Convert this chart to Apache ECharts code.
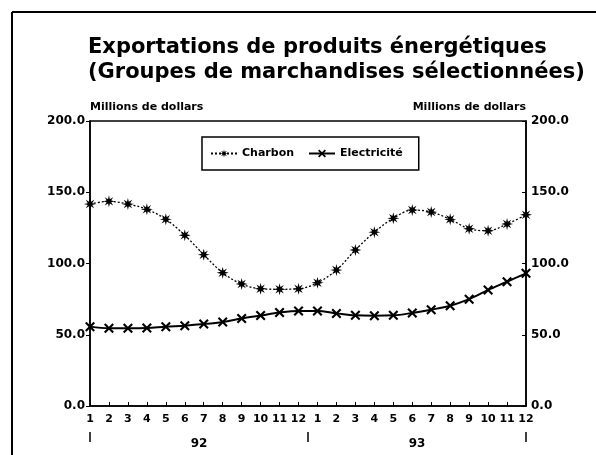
<!DOCTYPE html>
<html>
<head>
<meta charset="utf-8">
<script src="https://cdn.jsdelivr.net/npm/echarts@6.0.0/dist/echarts.min.js"></script>
<style>
  html, body { margin: 0; padding: 0; background: #fff; }
  #main { width: 596px; height: 455px; }
</style>
</head>
<body>
<div id="main"></div>
<script>
// months 92 then 93
var months = ['1','2','3','4','5','6','7','8','9','10','11','12',
              '1','2','3','4','5','6','7','8','9','10','11','12'];
var years = ['92', '93'];
var charbon = [141.7, 143.6, 141.7, 138, 131, 119.8, 106.2, 93.5, 85.6, 82.3, 81.9, 82.2,
               86.5, 95.4, 109.5, 122, 131.7, 137.5, 136.1, 131, 124.4, 123, 127.7, 134.2];
var electricite = [55.7, 54.5, 54.5, 54.7, 55.7, 56.4, 57.5, 59, 61.4, 63.5, 65.6, 66.7,
                   66.7, 65, 63.6, 63.4, 63.6, 65.3, 67.6, 70.4, 75, 81.4, 87.2, 93.1];

var font = 'DejaVu Sans';

// asterisk symbol: 8 spikes
function starPath(n, ro, ri) {
  var d = '';
  for (var i = 0; i < n * 2; i++) {
    var r = i % 2 === 0 ? ro : ri;
    var a = Math.PI * i / n - Math.PI / 2;
    var x = (10 + r * Math.cos(a)).toFixed(2);
    var y = (10 + r * Math.sin(a)).toFixed(2);
    d += (i === 0 ? 'M' : 'L') + x + ',' + y;
  }
  return 'path://' + d + 'Z';
}
var asterisk = starPath(8, 10, 4);
var cross = 'path://M0,1.5L1.5,0L5,3.5L8.5,0L10,1.5L6.5,5L10,8.5L8.5,10L5,6.5L1.5,10L0,8.5L3.5,5Z';

var chart = echarts.init(document.getElementById('main'));

var option = {
  backgroundColor: '#fff',
  animation: false,
  title: {
    text: 'Exportations de produits énergétiques\n(Groupes de marchandises sélectionnées)',
    left: 83,
    top: 30,
    textStyle: { fontFamily: font, fontWeight: 'bold', fontSize: 21, color: '#000', lineHeight: 25 }
  },
  legend: {
    left: 202,
    top: 137,
    width: 218,
    height: 35,
    padding: [11, 16, 11, 8],
    itemGap: 14,
    itemWidth: 26,
    itemHeight: 10,
    borderColor: '#000',
    borderWidth: 1.5,
    textStyle: { fontFamily: font, fontWeight: 'bold', fontSize: 11, color: '#000' },
    data: ['Charbon', 'Electricité']
  },
  grid: [
    { left: 90, right: 70, top: 121, bottom: 49, show: true, borderColor: '#000', borderWidth: 1.5 },
    // strip under the month labels for the year separators
    { left: 90, right: 70, top: 422, height: 10, show: false }
  ],
  xAxis: [
    {
      type: 'category',
      data: months,
      boundaryGap: false,
      axisLine: { lineStyle: { color: '#000', width: 1.5 } },
      axisTick: { inside: true, length: 4, lineStyle: { color: '#000' } },
      axisLabel: { color: '#000', fontFamily: font, fontWeight: 'bold', fontSize: 11, margin: 8, interval: 0 }
    },
    {
      type: 'category',
      gridIndex: 1,
      data: years,
      position: 'bottom',
      boundaryGap: true,
      axisLine: { show: true, lineStyle: { color: '#000', opacity: 0 } },
      axisTick: { show: true, interval: 0, length: 10, lineStyle: { color: '#000', width: 1.5 } },
      axisLabel: { color: '#000', fontFamily: font, fontWeight: 'bold', fontSize: 12, margin: 6 }
    }
  ],
  yAxis: [
    {
      type: 'value', min: 0, max: 200, interval: 50,
      name: 'Millions de dollars',
      nameLocation: 'end',
      nameGap: 8,
      nameTextStyle: { align: 'left', color: '#000', fontFamily: font, fontWeight: 'bold', fontSize: 11 },
      splitLine: { show: false },
      axisLine: { show: true, lineStyle: { color: '#000', width: 1.5 } },
      axisTick: { show: true, length: 4, lineStyle: { color: '#000' } },
      axisLabel: { color: '#000', fontFamily: font, fontWeight: 'bold', fontSize: 12, margin: 5,
                   formatter: function (v) { return v.toFixed(1); } }
    },
    {
      type: 'value', min: 0, max: 200, interval: 50,
      position: 'right',
      name: 'Millions de dollars',
      nameLocation: 'end',
      nameGap: 8,
      nameTextStyle: { align: 'right', color: '#000', fontFamily: font, fontWeight: 'bold', fontSize: 11 },
      splitLine: { show: false },
      axisLine: { show: true, lineStyle: { color: '#000', width: 1.5 } },
      axisTick: { show: true, inside: true, length: 4, lineStyle: { color: '#000' } },
      axisLabel: { color: '#000', fontFamily: font, fontWeight: 'bold', fontSize: 12, margin: 5,
                   formatter: function (v) { return v.toFixed(1); } }
    },
    {
      type: 'value', gridIndex: 1, show: false
    }
  ],
  series: [
    {
      name: 'Charbon',
      type: 'line',
      data: charbon,
      smooth: 0.35,
      symbol: asterisk,
      symbolSize: 12,
      itemStyle: { color: '#000' },
      lineStyle: { color: '#000', width: 1.3, type: [2, 2] }
    },
    {
      name: 'Electricité',
      type: 'line',
      data: electricite,
      smooth: 0.35,
      symbol: cross,
      symbolSize: 10,
      itemStyle: { color: '#000' },
      lineStyle: { color: '#000', width: 2 }
    }
  ],
  graphic: [
    { type: 'line', shape: { x1: 12, y1: 12, x2: 596, y2: 12 }, style: { stroke: '#000', lineWidth: 2 } },
    { type: 'line', shape: { x1: 12, y1: 12, x2: 12, y2: 455 }, style: { stroke: '#000', lineWidth: 2 } }
  ]
};

chart.setOption(option);
</script>
</body>
</html>
